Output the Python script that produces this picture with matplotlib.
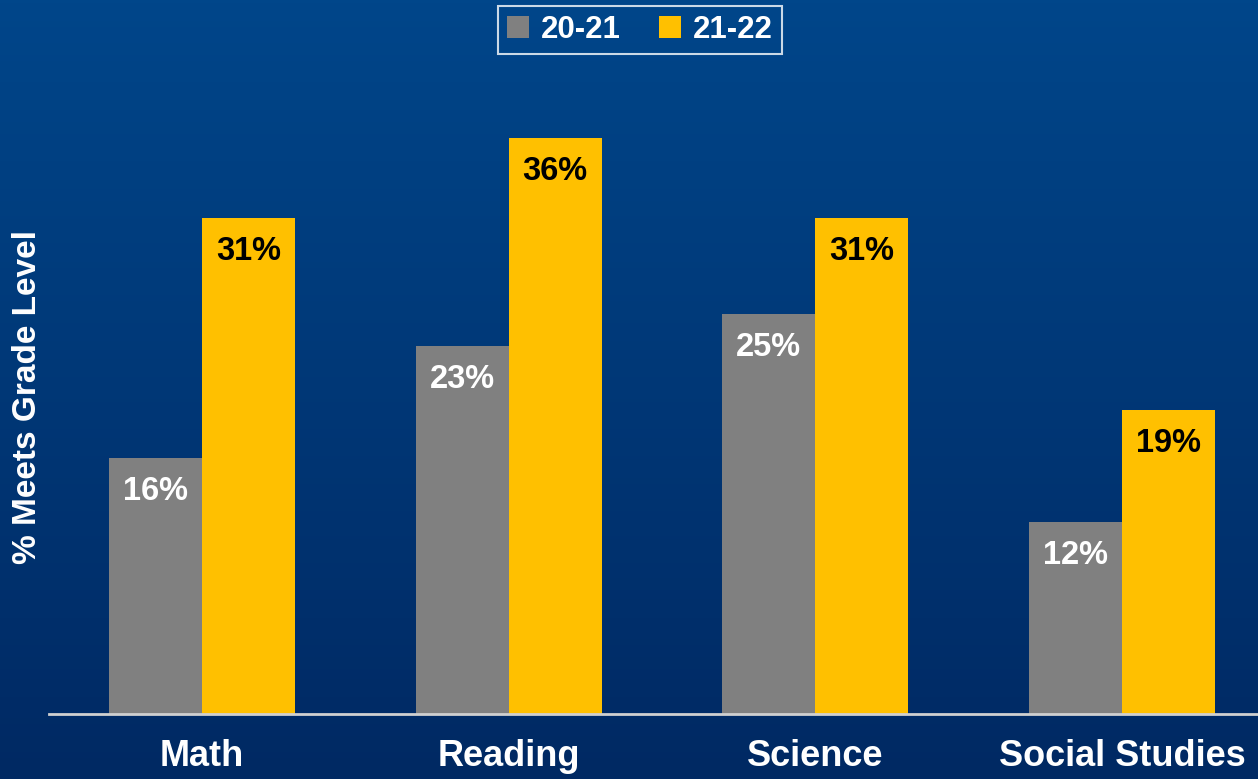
import numpy as np
from matplotlib import pyplot as plt
from matplotlib.colors import LinearSegmentedColormap

subjects = ['Math', 'Reading', 'Science', 'Social Studies']
series_names = ['20-21', '21-22']
values_2021 = [16, 23, 25, 12]
values_2122 = [31, 36, 31, 19]

gray = '#808080'
gold = '#FFC000'

fig = plt.figure(figsize=(12.58, 7.79), dpi=100)
plt.rcParams['font.family'] = ['Liberation Sans', 'DejaVu Sans']

# Background gradient
bg = fig.add_axes([0, 0, 1, 1], zorder=0)
cmap = LinearSegmentedColormap.from_list('bg', ['#00468a', '#002963'])
bg.imshow(np.linspace(0, 1, 256).reshape(-1, 1), aspect='auto', cmap=cmap,
          extent=[0, 1, 0, 1])
bg.axis('off')

# Main axes
ax = fig.add_axes([49 / 1258, 65 / 779, 1209 / 1258, 714 / 779], zorder=1)
ax.patch.set_alpha(0)

x = np.arange(len(subjects))
w = 0.303
b1 = ax.bar(x - w / 2, values_2021, w, color=gray, label=series_names[0])
b2 = ax.bar(x + w / 2, values_2122, w, color=gold, label=series_names[1])

for rect, v in zip(b1, values_2021):
    ax.text(rect.get_x() + rect.get_width() / 2, v - 2.1, f'{v}%', ha='center', va='center',
            color='white', fontsize=23.5, fontweight='bold')
for rect, v in zip(b2, values_2122):
    ax.text(rect.get_x() + rect.get_width() / 2, v - 2.1, f'{v}%', ha='center', va='center',
            color='black', fontsize=23.5, fontweight='bold')

ax.set_xlim(-0.498, 3.443)
ax.set_ylim(0, 44.6)
ax.set_xticks(x)
ax.set_xticklabels(subjects, fontsize=26, fontweight='bold', color='white')
ax.tick_params(axis='x', length=0, pad=18)
ax.set_yticks([])
for s in ['top', 'right', 'left']:
    ax.spines[s].set_visible(False)
ax.spines['bottom'].set_color('#d0d0d0')
ax.spines['bottom'].set_linewidth(2)

fig.text(28 / 1258, 1 - 397 / 779, '% Meets Grade Level', rotation=90, ha='center', va='center',
         color='white', fontsize=24, fontweight='bold')

leg = fig.legend(loc='center', bbox_to_anchor=(640 / 1258, 1 - 30 / 779), ncol=2,
                 frameon=True, fancybox=False, fontsize=22.5, handlelength=0.7, handleheight=0.7,
                 handletextpad=0.4, columnspacing=1.2, borderpad=0.3)
leg.get_frame().set_facecolor('none')
leg.get_frame().set_edgecolor('white')
leg.get_frame().set_linewidth(1.5)
for t in leg.get_texts():
    t.set_color('white')
    t.set_fontweight('bold')

fig.savefig('out.png', dpi=100)
